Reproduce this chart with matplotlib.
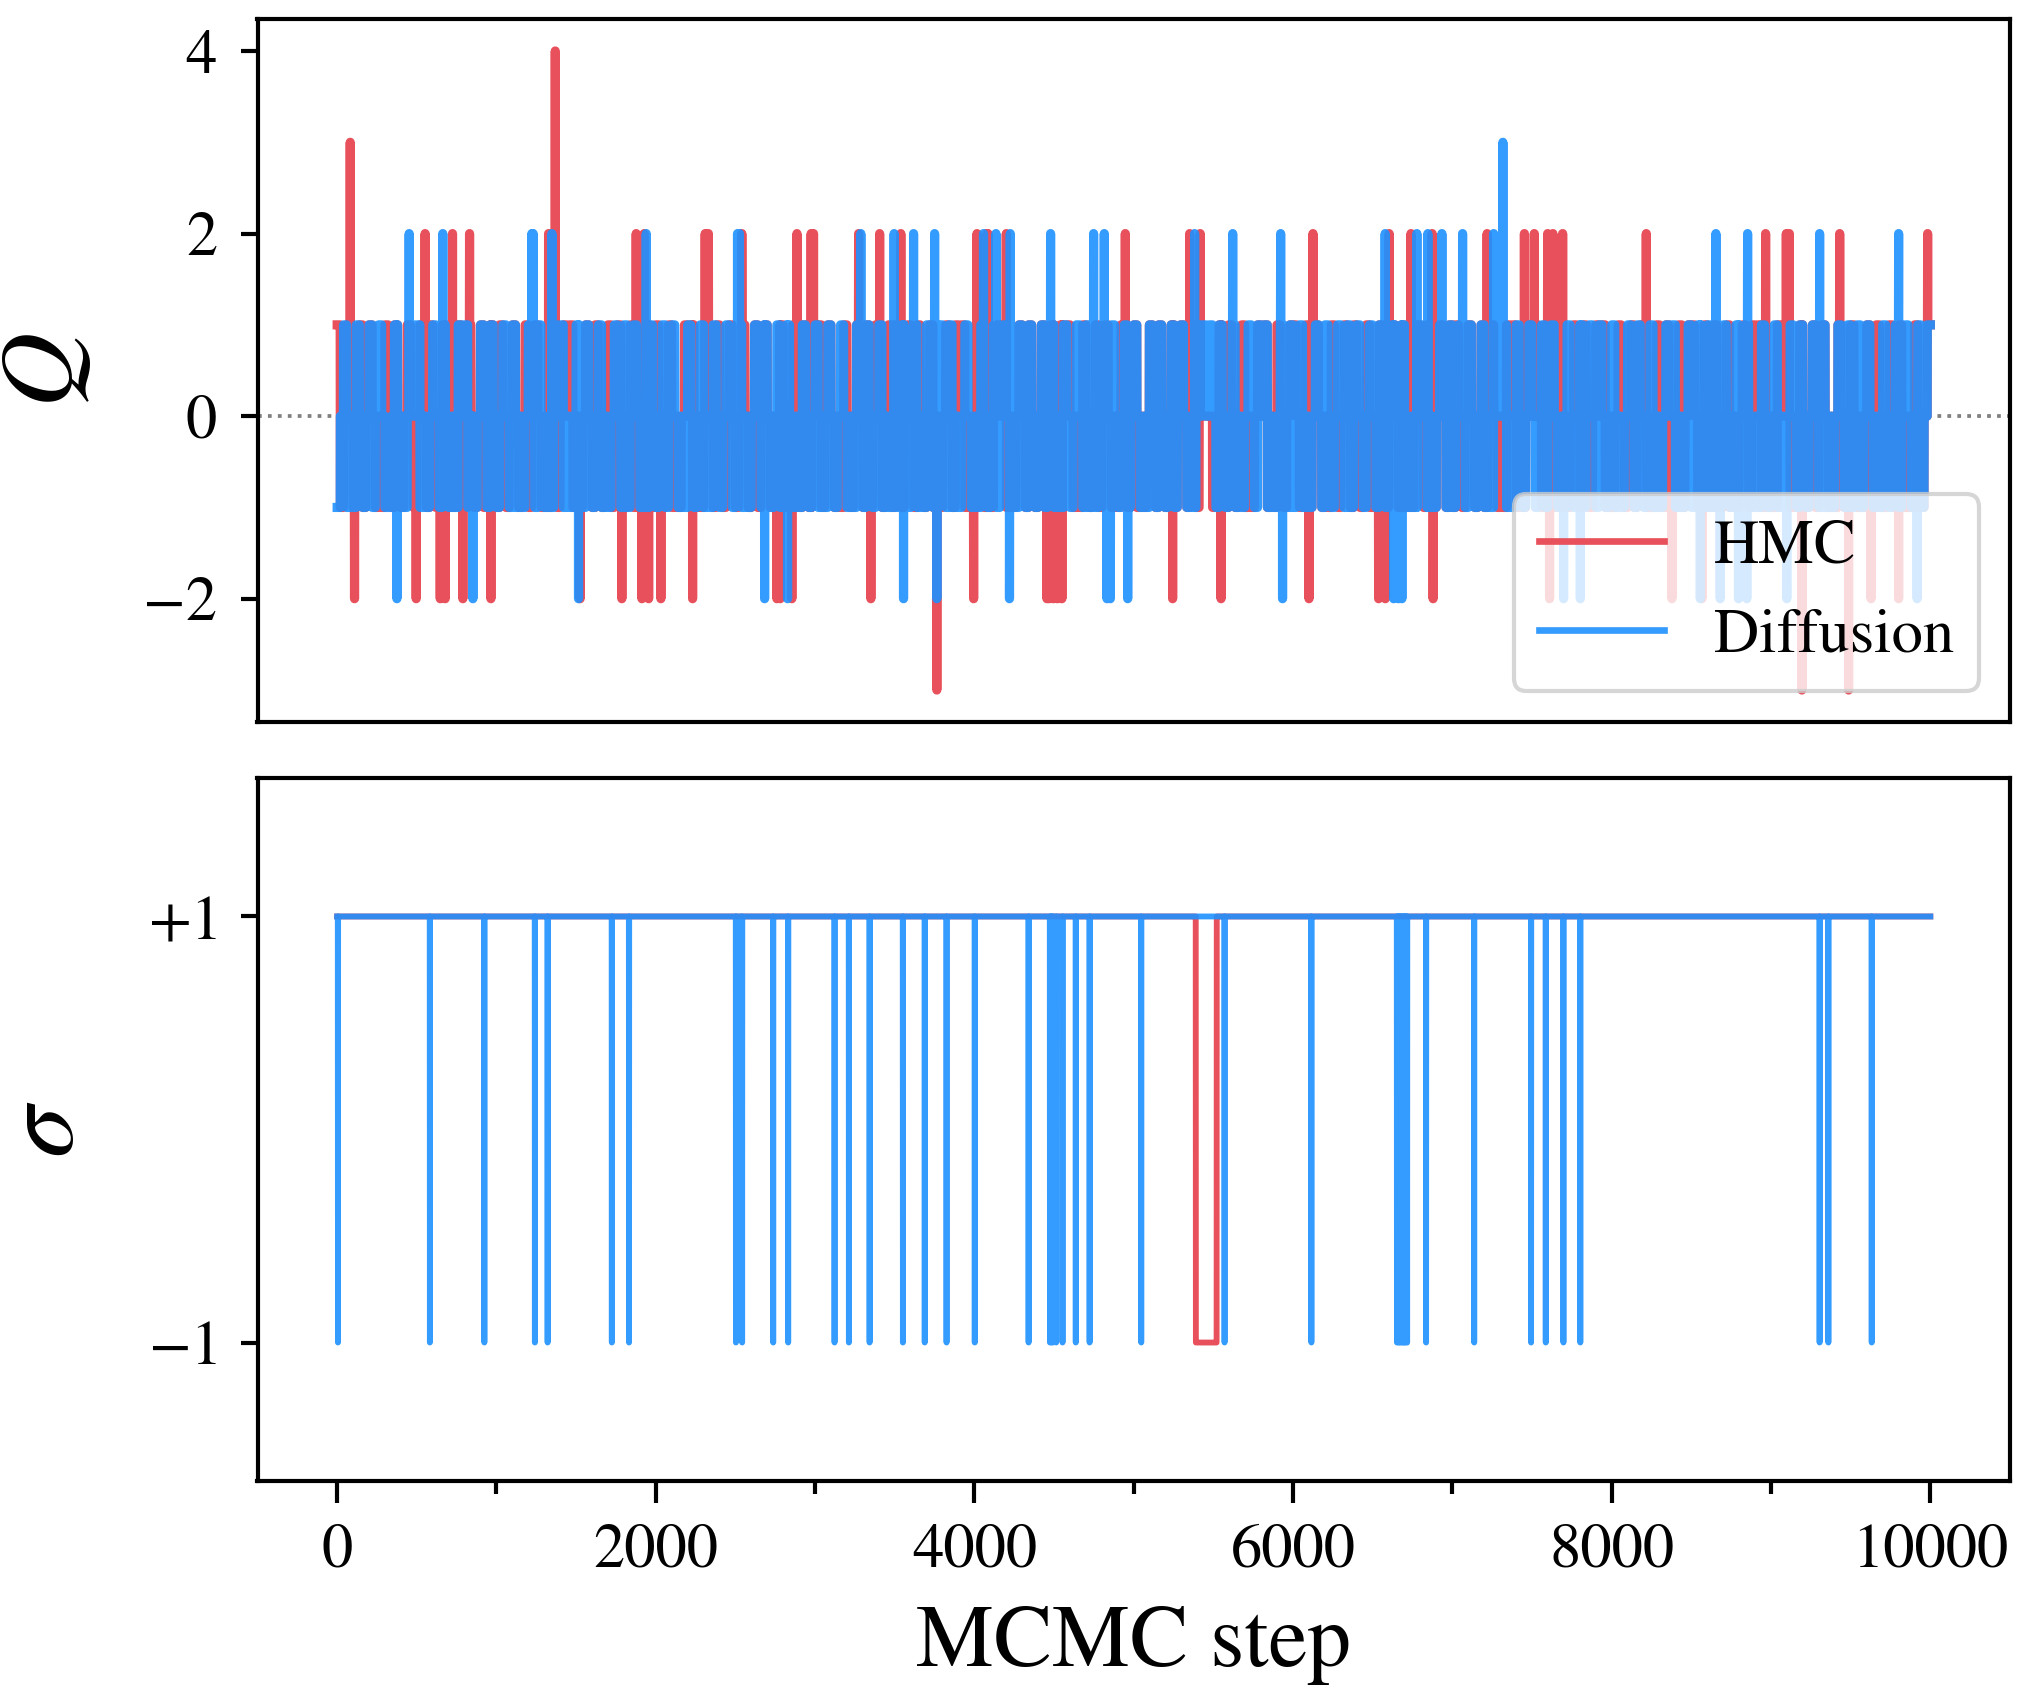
import numpy as np
import matplotlib
matplotlib.use("Agg")
import matplotlib.pyplot as plt
from matplotlib.ticker import MultipleLocator

# ---------------- data ----------------
N_STEPS = 10000
x_ticks = [0, 2000, 4000, 6000, 8000, 10000]
q_ticks = [-2, 0, 2, 4]
sigma_ticks = [-1, 1]
sigma_ticklabels = [r"$-1$", r"$+1$"]
series_names = ["HMC", "Diffusion"]

# background fluctuation of Q (coded '+'=1, '0'=0, '-'=-1), per step-interval
hmc_q_segments = [
    (0,    "+-0+0-0+-0+0-0-+0-+0-0+0-"),
    (500,  "0+0-+0-0+-0-0+0-+0-0+-0+0"),
    (1000, "-+0-0+0-0+-0+0-0-+0-0+0+-"),
    (1500, "0-0+0-+0-0+-0+0-0+-0-0+0-"),
    (2000, "+0-0+-0-0+0+-0-0+0-+0-0+0"),
    (2500, "-0+0-0+-0+0-0-+0-0+0-+0-0"),
    (3000, "0+-0+0-0-+0-0+0-+-0+0-0+-"),
    (3500, "+0-0+0-+0-0+-0-0+0-+0+-0-"),
    (4000, "-0+-0-0+0+-0-0+0-+0-0+0-+"),
    (4500, "0-+0+0-0-+0-0+-0+0-0-+0-0"),
    (5000, "+-0-0+0-+0-0+-0+0-0+-0"),
    (5430, "000"),
    (5495, "-0+0-+0-0+-0-0+0+-0-+0-0+"),
    (6000, "+0-0+-0+0-0-+0-0+0-+0-0+-"),
    (6500, "0-+0-0+0-+-0-0+0-+0-0+0-+"),
    (7000, "-+0-0+0-0+-0+0-0-+0+-0-0+"),
    (7500, "0+0-+0-0+-0-0+0-+0-0+0+-0"),
    (8000, "-0+0-0+-0+0-0-+0-+0-0+-0+"),
    (8500, "+0-0+0-+0-0+-0-0+0-+0+-0-"),
    (9000, "0-+0+0-0-+0-0+-0+0-0-+0-0"),
    (9500, "+0-0-+0-+0-0+-0+0-0-+0-0+"),
]
diff_q_segments = [
    (0,    "-0+-0-+0-0+-0+0--0+-0-0+0"),
    (500,  "+-0-0+0-+0-0-+0+-0-0+0-+0"),
    (1000, "-0+0-+-0-0+0-+0-0-+0+-0-0"),
    (1500, "+0-+0-0+-0-0+0-+-0+0-0-+0"),
    (2000, "-0+-0+0-0-+0-0+-0-+0-0+0-"),
    (2500, "0+-0-0+0-+0-0+-0+0-0-+0-0"),
    (3000, "+-0-+0-0+0-0-+0-+0-0+-0-0"),
    (3500, "-0+0-0+-0-+0-0+0-+-0-0+0-"),
    (4000, "0-+0-0+-0+0-0-+0-+0-0+-0+"),
    (4500, "-0-+0-0+0-+-0-0+0-+0-0+-0"),
    (5000, "+0-0-+0-+0-0+-0+0-0-+0"),
    (5430, "+0+"),
    (5495, "0-+0-0+-0-0+0-+0+-0-0+0-+"),
    (6000, "-0+-0-0+0-+0-0+0-+-0+0-0+"),
    (6500, "0-+0-0+-0+0-0-+0+-0-0+0-+"),
    (7000, "-0+0-+0-0+-0-0+0+-0-+0-0+"),
    (7500, "0-0+-0+0-0-+0-0+-0+0-+0-0"),
    (8000, "+-0-0+0-+0-0+-0-0+0+-0-0+"),
    (8500, "-0+0-+-0-0+0-0+-0+0-0-+0-"),
    (9000, "0+-0-0+0-+0-0+0-+-0-0+0-+"),
    (9500, "-0+-0+0-0-+0-0+-0+0-0+-0+"),
]

# large excursions of Q: (step, Q)
hmc_q_spikes = [
    (82, 3), (552, 2), (724, 2), (831, 2), (1327, 2), (1369, 4), (1877, 2),
    (1927, 2), (2310, 2), (2330, 2), (2540, 2), (2886, 2), (2975, 2), (2990, 2),
    (3273, 2), (3405, 2), (3538, 2), (4016, 2), (4078, 2), (4085, 2), (4200, 2),
    (4947, 2), (5351, 2), (5417, 2), (6125, 2), (6603, 2), (6740, 2), (6873, 2),
    (7218, 2), (7452, 2), (7514, 2), (7598, 2), (7631, 2), (7692, 2), (8217, 2),
    (8966, 2), (9096, 2), (9115, 2), (9431, 2), (9983, 2),
    (109, -2), (496, -2), (647, -2), (678, -2), (789, -2), (965, -2), (1525, -2),
    (1787, -2), (1913, -2), (1955, -2), (2032, -2), (2231, -2), (2760, -2),
    (2781, -2), (2854, -2), (3350, -2), (3764, -3), (3995, -2), (4455, -2),
    (4470, -2), (4497, -2), (4520, -2), (4549, -2), (5244, -2), (5548, -2),
    (6100, -2), (6537, -2), (6579, -2), (6879, -2), (7610, -2), (8378, -2),
    (8566, -2), (9194, -3), (9487, -3), (9628, -2), (9801, -2),
]
diff_q_spikes = [
    (452, 2), (663, 2), (1222, 2), (1230, 2), (1348, 2), (1940, 2), (2513, 2),
    (2525, 2), (3287, 2), (3496, 2), (3618, 2), (3750, 2), (4057, 2), (4135, 2),
    (4225, 2), (4478, 2), (4748, 2), (4815, 2), (5382, 2), (5621, 2), (5922, 2),
    (6578, 2), (6777, 2), (6846, 2), (6934, 2), (7064, 2), (7259, 2), (7317, 3),
    (8654, 2), (8853, 2), (9305, 2), (9801, 2),
    (375, -2), (852, -2), (1515, -2), (2683, -2), (2827, -2), (3555, -2),
    (3764, -2), (4220, -2), (4832, -2), (4853, -2), (4962, -2), (5934, -2),
    (6631, -2), (6662, -2), (6683, -2), (7698, -2), (7803, -2), (8556, -2),
    (8681, -2), (8796, -2), (8848, -2), (9099, -2), (9917, -2),
]

# sign sigma: intervals / steps where sigma = -1
hmc_sigma_negative = [(5390, 5520)]
diff_sigma_negative = [
    5, 582, 924, 1241, 1321, 1724, 1832, 2503, 2542, 2737, 2831, 3122, 3212,
    3342, 3551, 3688, 3825, 4002, 4340, 4474, 4483, 4492, 4513, 4553, 4636,
    4723, 5047, 5570, 6115, 6652, 6660, 6668, 6676, 6685, 6693, 6700, 6708,
    6716, 6835, 7137, 7494, 7586, 7697, 7803, 9305, 9360, 9632,
]

# ---------------- build series ----------------
CODE = {"+": 1.0, "0": 0.0, "-": -1.0}
steps = np.arange(N_STEPS + 1)


def expand(segments, spikes):
    q = np.zeros(N_STEPS + 1)
    starts = [s for s, _ in segments] + [N_STEPS + 1]
    for (s0, pat), s1 in zip(segments, starts[1:]):
        vals = np.array([CODE[c] for c in pat])
        k = (np.arange(s1 - s0) * len(vals)) // (s1 - s0)
        q[s0:s1] = vals[k]
    for s, v in spikes:
        q[s] = v
    return q


q_hmc = expand(hmc_q_segments, hmc_q_spikes)
q_diff = expand(diff_q_segments, diff_q_spikes)

sig_hmc = np.ones(N_STEPS + 1)
for a, b in hmc_sigma_negative:
    sig_hmc[a:b + 1] = -1
sig_diff = np.ones(N_STEPS + 1)
sig_diff[diff_sigma_negative] = -1

# ---------------- plot ----------------
plt.rcParams.update({
    "font.family": "STIXGeneral",
    "mathtext.fontset": "stix",
    "axes.linewidth": 1.0,
    "path.simplify": False,
})

RED = "#E8505B"
BLUE = "dodgerblue"
LW_Q = 2.2
LW_S = 1.4

W, H, DPI = 2019, 1688, 300
fig = plt.figure(figsize=(W / DPI, H / DPI), dpi=DPI)
ax1 = fig.add_axes([257.5 / W, 1 - 722 / H, (2010 - 257.5) / W, (722 - 19) / H])
ax2 = fig.add_axes([257.5 / W, 1 - 1481 / H, (2010 - 257.5) / W, (1481 - 778) / H],
                   sharex=ax1)

ax1.axhline(0, color="gray", ls=":", lw=0.9, zorder=0)
ax1.plot(steps, q_hmc, color=RED, lw=LW_Q, label=series_names[0], zorder=2)
ax1.plot(steps, q_diff, color=BLUE, alpha=0.9, lw=LW_Q, label=series_names[1], zorder=3)
ax1.set_yticks(q_ticks)
ax1.set_ylabel(r"$Q$", fontsize=25)
ax1.yaxis.set_label_coords(-0.092, 0.5)
ax1.tick_params(axis="x", which="both", bottom=False, labelbottom=False)
ax1.tick_params(axis="y", labelsize=15, length=4.2, width=1.0, pad=5.5)
leg = ax1.legend(loc="lower right", fontsize=15)
for ln in leg.get_lines():
    ln.set_linewidth(1.6)

ax2.plot(steps, sig_hmc, color=RED, lw=LW_S, zorder=2)
ax2.plot(steps, sig_diff, color=BLUE, alpha=0.9, lw=LW_S, zorder=3)
ax2.set_ylim(-1.65, 1.65)
ax2.set_yticks(sigma_ticks)
ax2.set_yticklabels(sigma_ticklabels)
ax2.set_ylabel(r"$\sigma$", fontsize=25)
ax2.yaxis.set_label_coords(-0.092, 0.5)
ax2.set_xticks(x_ticks)
ax2.xaxis.set_minor_locator(MultipleLocator(1000))
ax2.tick_params(axis="x", which="major", labelsize=15, length=5.2, width=1.0, pad=5.0)
ax2.tick_params(axis="x", which="minor", length=3.2, width=1.0)
ax2.tick_params(axis="y", labelsize=15, length=4.2, width=1.0, pad=5.5)
ax2.set_xlabel("MCMC step", fontsize=21, labelpad=6)

fig.savefig("out.png", dpi=DPI)
